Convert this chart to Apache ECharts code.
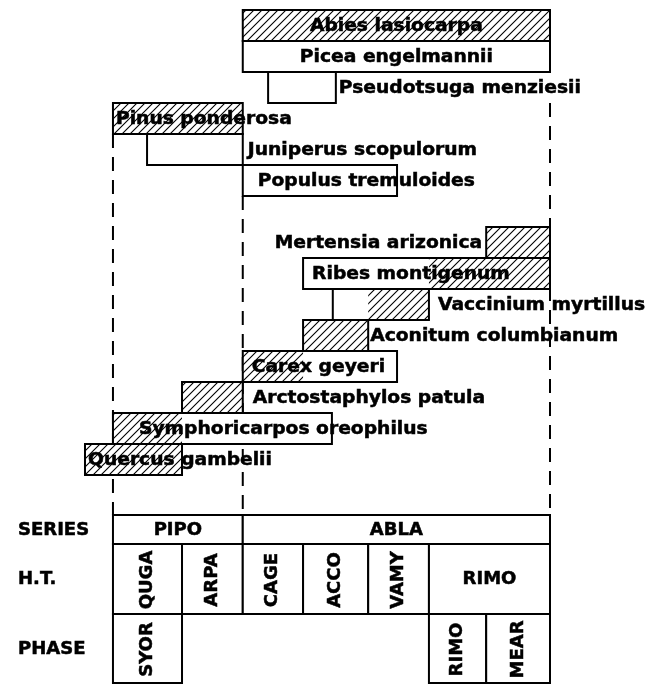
<!DOCTYPE html>
<html><head><meta charset="utf-8">
<script src="https://cdn.jsdelivr.net/npm/echarts@6/dist/echarts.min.js"></script>
<style>html,body{margin:0;padding:0;background:#fff}#c{width:663px;height:685px}</style>
</head><body><div id="c"></div>
<script>
// ---- data (gradient position, arbitrary units) ----
const species = ['Abies lasiocarpa', 'Picea engelmannii', 'Pseudotsuga menziesii', 'Pinus ponderosa',
  'Juniperus scopulorum', 'Populus tremuloides', '', 'Mertensia arizonica', 'Ribes montigenum',
  'Vaccinium myrtillus', 'Aconitum columbianum', 'Carex geyeri', 'Arctostaphylos patula',
  'Symphoricarpos oreophilus', 'Quercus gambelii'];
const rangeStart = [29.7, 29.7, 35.5, 0, 7.8, 29.7, null, 85.4, 43.5, 50.3, 43.5, 29.7, 15.8, 0, -6.4];
const rangeEnd   = [100, 100, 51, 29.7, 29.7, 65, null, 100, 100, 72.3, 58.4, 65, 29.7, 50.1, 15.8];
const hatchStart = [29.7, null, null, 0, null, null, null, 85.4, 72.3, 58.4, 43.5, 29.7, 15.8, 0, -6.4];
const hatchEnd   = [100, null, null, 29.7, null, null, null, 100, 100, 72.3, 58.4, 43.5, 29.7, 15.8, 15.8];

const dividerX = [0, 29.7, 100];
const dividerFrom = ['Pinus ponderosa', 'Populus tremuloides', 'Pseudotsuga menziesii'];

const rowTitles = ['SERIES', 'H.T.', 'PHASE'];
const seriesNames = ['PIPO', 'ABLA'];
const seriesBounds = [0, 29.7, 100];
const htNames = ['QUGA', 'ARPA', 'CAGE', 'ACCO', 'VAMY', 'RIMO'];
const htBounds = [0, 15.8, 29.7, 43.5, 58.4, 72.3, 100];
const phaseNames = ['SYOR', 'RIMO', 'MEAR'];
const phaseFrom = [0, 72.3, 85.4];
const phaseTo = [15.8, 85.4, 100];

// ---- layout / style (not data) ----
const labelLayout = {
  'Abies lasiocarpa': ['center', 0], 'Picea engelmannii': ['center', 0],
  'Pseudotsuga menziesii': ['right', 3], 'Pinus ponderosa': ['inside', 3],
  'Juniperus scopulorum': ['right', 5], 'Populus tremuloides': ['inside', 15],
  'Mertensia arizonica': ['left', 4], 'Ribes montigenum': ['inside', 9],
  'Vaccinium myrtillus': ['right', 9], 'Aconitum columbianum': ['right', 2],
  'Carex geyeri': ['inside', 9], 'Arctostaphylos patula': ['right', 10],
  'Symphoricarpos oreophilus': ['inside', 26], 'Quercus gambelii': ['inside', 3]
};
const FONT = 'bold 17px "DejaVu Sans"';
const SX = 1.1, TSX = 1.06;
const TABLE_GAP = 40, ROW_H = [29, 70, 69];
const TXT = { fill: '#000', stroke: '#000', lineWidth: 0.5 };

function makeHatch() {
  const n = 8, c = document.createElement('canvas');
  c.width = n; c.height = n;
  const g = c.getContext('2d');
  g.strokeStyle = '#000'; g.lineWidth = 1.1;
  g.beginPath();
  g.moveTo(-1, n + 1); g.lineTo(n + 1, -1);
  g.moveTo(-2, 2); g.lineTo(2, -2);
  g.moveTo(n - 2, n + 2); g.lineTo(n + 2, n - 2);
  g.stroke();
  return c;
}
const hatch = makeHatch();

const barData = [];
species.forEach((n, i) => { if (rangeStart[i] !== null) barData.push([rangeStart[i], rangeEnd[i], i]); });

function textEl(x, y, str, align, sx, rot) {
  return { type: 'text', z2: 10, x: x, y: y, scaleX: sx, rotation: rot || 0,
    style: Object.assign({ text: str, font: FONT, align: align, verticalAlign: 'middle' }, TXT) };
}

function renderBar(params, api) {
  const row = api.value(2);
  const name = species[row];
  const a = api.coord([api.value(0), row]);
  const b = api.coord([api.value(1), row]);
  const h = api.size([0, 1])[1];
  const y0 = a[1] - h / 2;
  const ch = [];
  ch.push({ type: 'rect', z2: 1, shape: { x: a[0], y: y0, width: b[0] - a[0], height: h }, style: { fill: '#fff' } });
  if (hatchStart[row] !== null) {
    const ha = api.coord([hatchStart[row], row])[0], hb = api.coord([hatchEnd[row], row])[0];
    ch.push({ type: 'rect', z2: 2, shape: { x: ha, y: y0, width: hb - ha, height: h }, style: { fill: { image: hatch, repeat: 'repeat' } } });
  }
  ch.push({ type: 'rect', z2: 3, shape: { x: a[0], y: y0, width: b[0] - a[0], height: h }, style: { fill: null, stroke: '#000', lineWidth: 2 } });
  const lay = labelLayout[name];
  let tx, align;
  if (lay[0] === 'center') { tx = (a[0] + b[0]) / 2; align = 'center'; }
  else if (lay[0] === 'inside') { tx = a[0] + lay[1]; align = 'left'; }
  else if (lay[0] === 'right') { tx = b[0] + lay[1]; align = 'left'; }
  else { tx = a[0] - lay[1]; align = 'right'; }
  ch.push(textEl(tx, a[1] + 1, name, align, SX));
  return { type: 'group', children: ch };
}

function renderDivider(params, api) {
  const x = api.value(0), row = api.value(1);
  const p = api.coord([x, row]);
  const h = api.size([0, 1])[1];
  const cs = params.coordSys;
  const bottom = cs.y + cs.height + TABLE_GAP;
  return { type: 'line', shape: { x1: p[0], y1: p[1] + h / 2, x2: p[0], y2: bottom },
    style: { stroke: '#000', lineWidth: 2, lineDash: [14, 9] } };
}

function renderTable(params, api) {
  const cs = params.coordSys;
  const top = cs.y + cs.height + TABLE_GAP;
  const X = v => api.coord([v, 0])[0];
  const ch = [];
  const rowsY = [top, top + ROW_H[0], top + ROW_H[0] + ROW_H[1]];
  const cell = (x0, x1, y0, hgt, label, vertical) => {
    ch.push({ type: 'rect', shape: { x: x0, y: y0, width: x1 - x0, height: hgt }, style: { fill: '#fff', stroke: '#000', lineWidth: 2 } });
    ch.push(textEl((x0 + x1) / 2, y0 + hgt / 2 + 1, label, 'center', TSX, vertical ? Math.PI / 2 : 0));
  };
  seriesNames.forEach((n, k) => cell(X(seriesBounds[k]), X(seriesBounds[k + 1]), rowsY[0], ROW_H[0], n, false));
  htNames.forEach((n, k) => {
    const x0 = X(htBounds[k]), x1 = X(htBounds[k + 1]);
    cell(x0, x1, rowsY[1], ROW_H[1], n, (x1 - x0) < 90);
  });
  phaseNames.forEach((n, k) => cell(X(phaseFrom[k]), X(phaseTo[k]), rowsY[2], ROW_H[2], n, true));
  rowTitles.forEach((t, k) => ch.push(textEl(18, rowsY[k] + ROW_H[k] / 2 + 1, t, 'left', TSX)));
  return { type: 'group', children: ch };
}

const chart = echarts.init(document.getElementById('c'), null, { renderer: 'canvas' });
chart.setOption({
  backgroundColor: '#fff',
  animation: false,
  grid: { left: 78, right: 113, top: 10, bottom: 210 },
  xAxis: { type: 'value', min: -8, max: 100, show: false },
  yAxis: { type: 'category', data: species, inverse: true, show: false },
  series: [
    { type: 'custom', z: 1, renderItem: renderDivider, encode: { x: 0, y: 1 },
      data: dividerX.map((x, k) => [x, species.indexOf(dividerFrom[k])]) },
    { type: 'custom', z: 2, renderItem: renderBar, encode: { x: [0, 1], y: 2 }, data: barData },
    { type: 'custom', z: 3, renderItem: renderTable, data: [[0, 0]], encode: { x: 0, y: 1 } }
  ]
});
</script>
</body></html>
